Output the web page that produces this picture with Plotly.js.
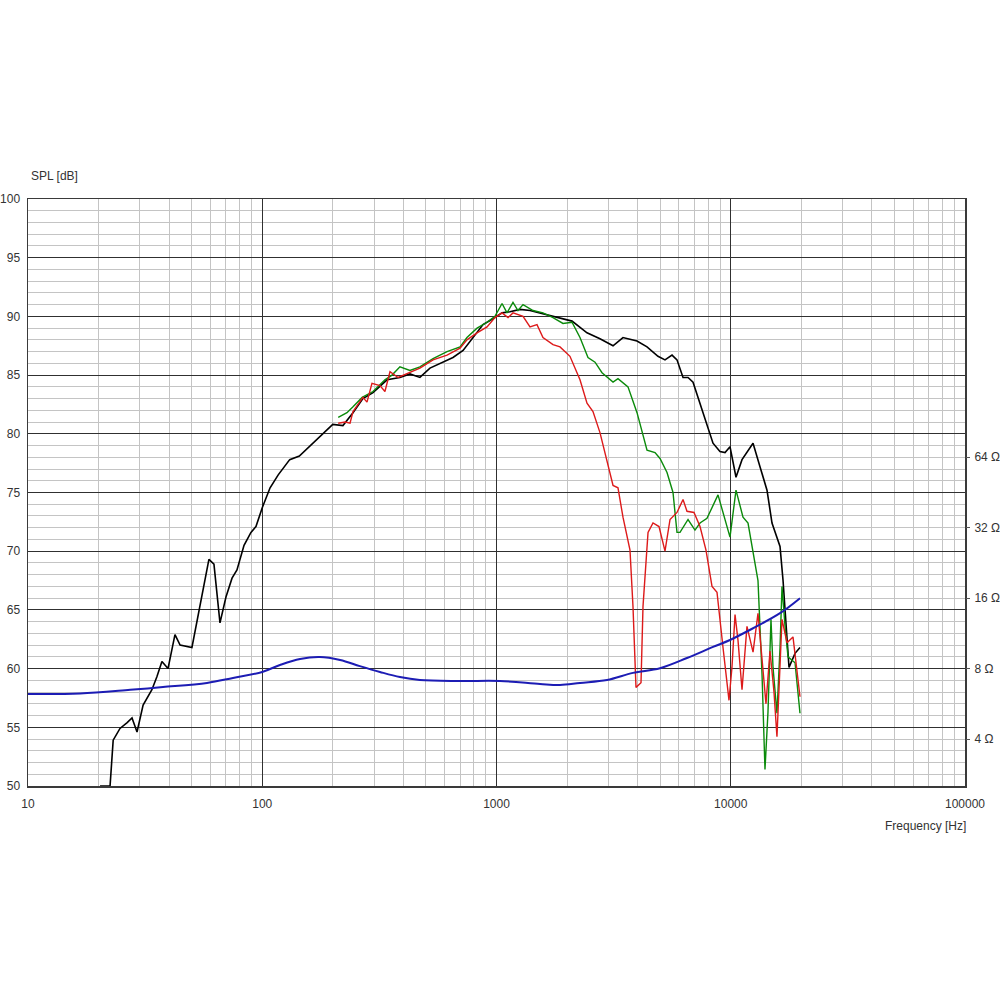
<!DOCTYPE html>
<html>
<head>
<meta charset="utf-8">
<script src="https://cdn.plot.ly/plotly-3.0.1.min.js"></script>
<style>html,body{margin:0;padding:0;background:#fff;}#chart{width:1000px;height:1000px;}</style>
</head>
<body>
<div id="chart"></div>
<script>
// On-axis SPL (black)
const blackFreq = [20.3,22.4,23.1,24.7,26.5,27.8,29.2,31.0,33.8,35.5,37.3,39.6,42.4,44.6,50.1,53.2,55.9,59.2,62.2,66.0,70.0,74.3,78.0,83.6,89.5,94.0,100,108,117,131,144,176,200,221,244,269,297,341,387,427,471,520,574,652,720,794,876,966,1056,1142,1260,1390,1534,1777,2101,2434,2765,3144,3467,3980,4391,4891,5240,5614,5896,6256,6571,6902,7393,7917,8400,8996,9452,9927,10530,11170,12450,13330,14280,15000,16230,16720,17220,17730,18810,19750];
const blackSpl = [50,50,53.9,54.9,55.4,55.8,54.6,56.9,58.2,59.3,60.6,60.0,62.9,62.0,61.8,64.4,66.7,69.3,68.9,63.9,66.1,67.7,68.4,70.5,71.6,72.1,73.7,75.4,76.5,77.8,78.1,79.7,80.8,80.7,81.8,83.0,83.5,84.6,84.8,85.1,84.8,85.6,86.0,86.5,87.1,88.2,89.3,89.8,90.3,90.4,90.6,90.5,90.3,90.0,89.6,88.6,88.1,87.5,88.2,87.9,87.4,86.6,86.3,86.7,86.3,84.8,84.8,84.4,82.6,80.9,79.2,78.5,78.4,78.9,76.3,77.8,79.2,77.2,75.2,72.4,70.4,67.5,63.5,60.1,61.3,61.8];

// Off-axis SPL (green)
const greenFreq = [211,230,244,267,297,334,358,387,427,471,536,615,699,748,826,911,985,1056,1109,1176,1235,1298,1432,1579,1743,1922,2101,2272,2458,2634,2821,3144,3301,3642,3980,4180,4391,4750,4989,5345,5669,5896,6073,6571,7036,7393,7917,8823,9927,10530,11280,11850,12450,13070,13600,14000,14420,14850,15150,15750,16230,16550,17050,17560,18810,19750];
const greenSpl = [81.4,81.8,82.3,83.1,83.6,84.6,85.0,85.7,85.4,85.7,86.4,87.0,87.4,88.2,89.0,89.5,90.0,91.1,90.3,91.2,90.5,91.0,90.5,90.3,89.9,89.4,89.5,88.2,86.5,86.1,85.2,84.4,84.7,84.0,81.8,80.3,78.6,78.4,77.9,76.7,75.0,71.6,71.6,72.7,71.8,72.4,72.8,74.8,71.2,75.2,72.9,72.4,69.8,67.5,59.5,51.4,56.3,64.2,60.1,56.2,61.8,67.0,63.6,61.0,60.5,56.2];

// Off-axis SPL (red)
const redFreq = [211,226,237,244,269,280,294,318,334,351,380,427,471,536,615,699,748,826,911,985,1056,1120,1176,1298,1390,1489,1579,1743,1867,2059,2272,2434,2582,2765,2963,3144,3301,3467,3714,3825,3940,4139,4221,4435,4657,4940,5240,5505,5896,6256,6505,6967,7393,7840,8318,8736,9267,9829,10120,10430,10740,11170,11730,12450,13070,13600,14140,14710,15300,15750,16550,17390,18440,19750];
const redSpl = [80.9,81.0,80.9,81.9,83.1,82.7,84.3,84.1,83.6,85.3,84.8,85.2,85.6,86.3,86.7,87.3,88.0,88.6,89.1,89.9,90.3,89.9,90.3,90.0,89.1,89.3,88.2,87.6,87.4,86.6,84.6,82.6,81.9,80.1,77.8,75.6,75.4,72.9,70.1,65.3,58.4,58.8,65.3,71.6,72.4,72.1,70.0,72.7,73.3,74.4,73.4,73.3,72.1,70.1,67.0,66.5,61.8,57.3,60.1,64.6,62.4,58.2,63.6,61.4,64.7,61.0,57.0,61.5,58.0,54.2,64.2,62.2,62.7,57.6];

// Impedance (blue), ohms
const impFreq = [10,16.7,27.3,37.7,58.1,75,100,119,145,176,215,261,318,387,471,699,1035,1534,1867,2272,2963,3825,4989,6505,8400,9927,12450,16230,19750];
const impOhm = [6.23,6.26,6.49,6.67,6.95,7.30,7.74,8.29,8.80,8.97,8.71,8.20,7.74,7.36,7.15,7.08,7.08,6.88,6.81,6.95,7.15,7.67,8.03,8.88,9.90,10.6,11.9,13.8,16.0];

const xTickVals = [10,100,1000,10000,100000];
const xTickText = ["10","100","1000","10000","100000"];
const yTickVals = [50,55,60,65,70,75,80,85,90,95,100];
const zTickVals = [4,8,16,32,64];
const zTickText = ["4 Ω","8 Ω","16 Ω","32 Ω","64 Ω"];

const minorX = [];
[10,100,1000,10000].forEach(d => { for (let k = 2; k <= 9; k++) minorX.push(d*k); });

const FONT = "Liberation Sans, Arial, sans-serif";
const traces = [
  {x: impFreq, y: impOhm, yaxis: 'y2', mode: 'lines', line: {color: '#1c1cb4', width: 2, shape: 'spline'}, hoverinfo: 'skip'},
  {x: blackFreq, y: blackSpl, mode: 'lines', line: {color: '#000000', width: 1.6}},
  {x: greenFreq, y: greenSpl, mode: 'lines', line: {color: '#0a8a0a', width: 1.4}},
  {x: redFreq, y: redSpl, mode: 'lines', line: {color: '#dd1a1a', width: 1.4}}
];
const zLow = Math.log10(8) - (10/6)*Math.log10(2);
const zHigh = Math.log10(8) + (40/6)*Math.log10(2);

const layout = {
  width: 1000, height: 1000,
  margin: {l: 28, r: 35, t: 199, b: 214, pad: 0},
  paper_bgcolor: '#ffffff', plot_bgcolor: '#ffffff',
  showlegend: false,
  font: {family: FONT, size: 12, color: '#333333'},
  xaxis: {
    type: 'log', range: [1, 5],
    tickmode: 'array', tickvals: xTickVals, ticktext: xTickText,
    showgrid: true, gridcolor: '#303030', gridwidth: 1,
    minor: {tickmode: 'array', tickvals: minorX, showgrid: true, gridcolor: '#c4c4c4', gridwidth: 1, ticks: ''},
    showline: true, linecolor: '#3a3a3a', linewidth: 1.5, mirror: true,
    ticks: '', ticklabelstandoff: 6,
    tickfont: {family: FONT, size: 12, color: '#333333'},
    zeroline: false, fixedrange: true
  },
  yaxis: {
    range: [50, 100],
    tickmode: 'array', tickvals: yTickVals,
    showgrid: true, gridcolor: '#303030', gridwidth: 1,
    minor: {dtick: 1, showgrid: true, gridcolor: '#c4c4c4', gridwidth: 1, ticks: ''},
    showline: true, linecolor: '#3a3a3a', linewidth: 1.5, mirror: true,
    ticks: '', ticklabelstandoff: 4,
    tickfont: {family: FONT, size: 12, color: '#333333'},
    zeroline: false, fixedrange: true
  },
  yaxis2: {
    type: 'log', overlaying: 'y', side: 'right',
    range: [zLow, zHigh],
    tickmode: 'array', tickvals: zTickVals, ticktext: zTickText,
    showgrid: false, zeroline: false, showline: false,
    ticks: 'outside', ticklen: 4, tickcolor: '#555555', ticklabelstandoff: 2,
    tickfont: {family: FONT, size: 12, color: '#333333'},
    fixedrange: true
  },
  annotations: [
    {text: 'SPL [dB]', xref: 'paper', yref: 'paper', x: 0, y: 1, xanchor: 'left', yanchor: 'bottom', xshift: 1, yshift: 14, showarrow: false, font: {family: FONT, size: 12, color: '#333333'}},
    {text: 'Frequency [Hz]', xref: 'paper', yref: 'paper', x: 1, y: 0, xanchor: 'right', yanchor: 'middle', xshift: 3, yshift: -40, showarrow: false, font: {family: FONT, size: 12, color: '#333333'}}
  ]
};
Plotly.newPlot('chart', traces, layout, {displayModeBar: false, staticPlot: true});
</script>
</body>
</html>
